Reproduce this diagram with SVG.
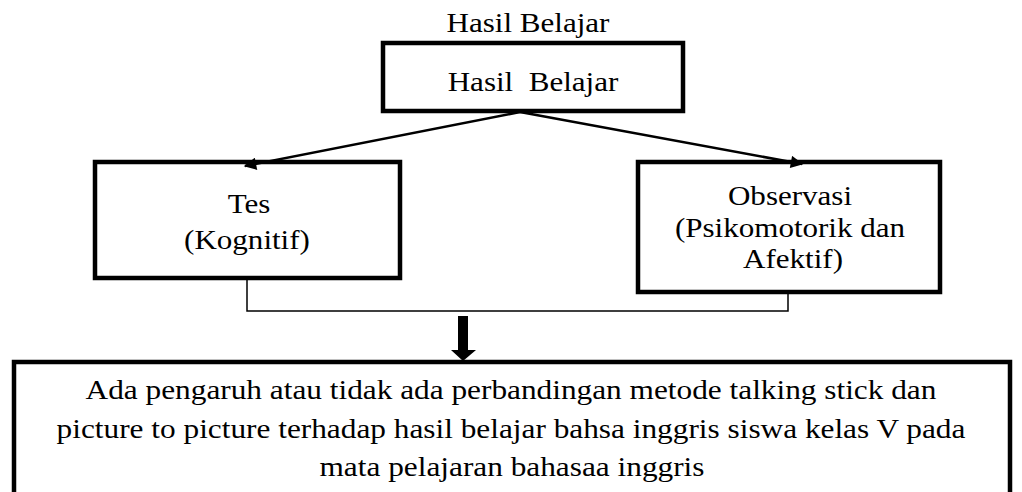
<svg xmlns="http://www.w3.org/2000/svg" width="1022" height="492" viewBox="0 0 1022 492">
<style>
.box{fill:#fff;stroke:#000;stroke-width:4.5}
.t{font-family:"Liberation Serif","Times New Roman",serif;font-size:27px;fill:#000;text-anchor:middle}
.thin{fill:none;stroke:#000;stroke-width:1.5}
.arr{fill:none;stroke:#000;stroke-width:2.5}
</style>
<defs>
<marker id="ah" viewBox="0 0 10 10" refX="9" refY="5" markerWidth="6" markerHeight="5" markerUnits="strokeWidth" orient="auto">
<path d="M0,0 L10,5 L0,10 z" fill="#000"/>
</marker>
</defs>
<rect width="1022" height="492" fill="#fff"/>
<text class="t" transform="translate(528,32) scale(1.15,1)">Hasil Belajar</text>
<g id="node-hasil">
<rect class="box" x="383" y="43" width="300" height="68"/>
<text class="t" transform="translate(533,91) scale(1.15,1)" xml:space="preserve">Hasil  Belajar</text>
</g>
<g id="node-tes">
<rect class="box" x="95" y="162" width="305" height="116"/>
<text class="t" transform="translate(249,213) scale(1.15,1)">Tes</text>
<text class="t" transform="translate(247,249) scale(1.15,1)">(Kognitif)</text>
</g>
<g id="node-observasi">
<rect class="box" x="638" y="162" width="302" height="130"/>
<text class="t" transform="translate(790,205) scale(1.15,1)">Observasi</text>
<text class="t" transform="translate(790,237) scale(1.15,1)">(Psikomotorik dan</text>
<text class="t" transform="translate(793,268) scale(1.15,1)">Afektif)</text>
</g>
<g id="node-hasil-akhir">
<rect class="box" x="14" y="362" width="996" height="160"/>
<text class="t" transform="translate(511,399) scale(1.16,1)">Ada pengaruh atau tidak ada perbandingan metode talking stick dan</text>
<text class="t" transform="translate(511,438) scale(1.16,1)">picture to picture terhadap hasil belajar bahsa inggris siswa kelas V pada</text>
<text class="t" transform="translate(512,476) scale(1.16,1)">mata pelajaran bahasaa inggris</text>
</g>
<g id="connectors">
<line class="arr" x1="520" y1="112" x2="245" y2="166" marker-end="url(#ah)"/>
<line class="arr" x1="520" y1="112" x2="802" y2="164" marker-end="url(#ah)"/>
<polyline class="thin" points="247,280 247,311 788,311 788,294"/>
<path d="M458,316 H468 V350 H476 L463,361 L451,350 H458 Z" fill="#000"/>
</g>
</svg>
